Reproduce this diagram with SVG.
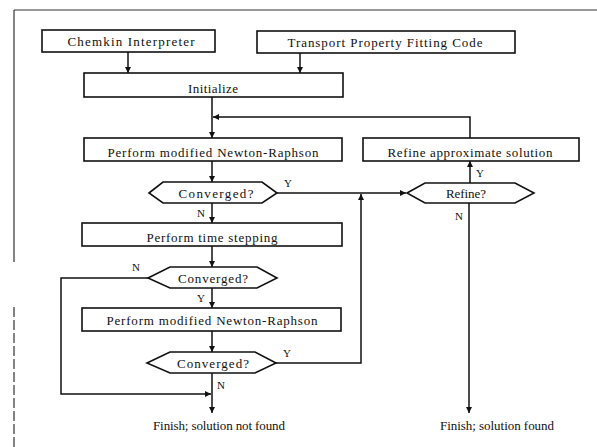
<svg xmlns="http://www.w3.org/2000/svg" width="597" height="447" viewBox="0 0 597 447">
<defs>
<marker id="ah" viewBox="0 0 10 10" refX="10" refY="5" markerWidth="6" markerHeight="7" markerUnits="userSpaceOnUse" orient="auto">
<path d="M0,0 L10,5 L0,10 z" fill="#111"/>
</marker>
</defs>
<style>
.box{fill:#fff;stroke:#111;stroke-width:1.6}
.t{font-family:"Liberation Serif","Times New Roman",serif;font-size:13px;fill:#111;text-anchor:middle}
.lb{font-family:"Liberation Serif","Times New Roman",serif;font-size:11px;fill:#111;text-anchor:middle}
.c{fill:none;stroke:#111;stroke-width:1.5}
.a{fill:none;stroke:#111;stroke-width:1.5;marker-end:url(#ah)}
.frame{fill:none;stroke:#333;stroke-width:1.2}
</style>
<rect width="597" height="447" fill="#fff"/>
<g id="frame">
<line class="frame" x1="14" y1="10" x2="597" y2="10"/>
<line class="frame" x1="14" y1="10" x2="14" y2="262"/>
<line class="frame" x1="14" y1="307" x2="14" y2="447" stroke-dasharray="10,3"/>
</g>
<g id="connectors">
<line class="a" x1="128" y1="52" x2="128" y2="73"/>
<line class="a" x1="300" y1="53" x2="300" y2="73"/>
<line class="a" x1="212" y1="97" x2="212" y2="138"/>
<polyline class="a" points="470,138 470,117 213,117"/>
<line class="a" x1="212" y1="161" x2="212" y2="182"/>
<line class="a" x1="277" y1="193" x2="406" y2="193"/>
<line class="a" x1="470" y1="183" x2="470" y2="161"/>
<line class="a" x1="469" y1="203" x2="469" y2="413"/>
<line class="a" x1="212" y1="203" x2="212" y2="223"/>
<line class="a" x1="212" y1="246" x2="212" y2="267"/>
<line class="a" x1="212" y1="288" x2="212" y2="308"/>
<line class="a" x1="212" y1="331" x2="212" y2="352"/>
<polyline class="a" points="276,363 361,363 361,194"/>
<polyline class="a" points="148,278 61,278 61,394 211,394"/>
<line class="a" x1="212" y1="373" x2="212" y2="413"/>
<text class="lb" x="288" y="187">Y</text>
<text class="lb" x="201" y="217">N</text>
<text class="lb" x="136" y="271">N</text>
<text class="lb" x="201" y="302">Y</text>
<text class="lb" x="287" y="357">Y</text>
<text class="lb" x="221" y="389">N</text>
<text class="lb" x="480" y="177">Y</text>
<text class="lb" x="459" y="220">N</text>
</g>
<g id="chemkin">
<rect class="box" x="42" y="30" width="173" height="22"/>
<text class="t" x="131" y="46" textLength="127" lengthAdjust="spacing">Chemkin Interpreter</text>
</g>
<g id="transport">
<rect class="box" x="257" y="31" width="258" height="22"/>
<text class="t" x="385" y="47" textLength="195" lengthAdjust="spacing">Transport Property Fitting Code</text>
</g>
<g id="initialize">
<rect class="box" x="84" y="73" width="259" height="24"/>
<text class="t" x="213" y="93" textLength="50" lengthAdjust="spacing">Initialize</text>
</g>
<g id="newton1">
<rect class="box" x="84" y="138" width="258" height="23"/>
<text class="t" x="213" y="157" textLength="211" lengthAdjust="spacing">Perform modified Newton-Raphson</text>
</g>
<g id="refinebox">
<rect class="box" x="363" y="138" width="216" height="23"/>
<text class="t" x="470" y="157" textLength="165" lengthAdjust="spacing">Refine approximate solution</text>
</g>
<g id="converged1">
<polygon class="box" points="149,193 163,182 262,182 277,193 262,203 163,203"/>
<text class="t" x="216" y="198" textLength="75" lengthAdjust="spacing">Converged?</text>
</g>
<g id="refineq">
<polygon class="box" points="407,193 425,183 515,183 534,193 515,203 425,203"/>
<text class="t" x="466" y="198" textLength="40" lengthAdjust="spacing">Refine?</text>
</g>
<g id="timestep">
<rect class="box" x="82" y="223" width="260" height="23"/>
<text class="t" x="212" y="242" textLength="131" lengthAdjust="spacing">Perform time stepping</text>
</g>
<g id="converged2">
<polygon class="box" points="148,278 170,267 257,267 277,278 257,288 170,288"/>
<text class="t" x="213" y="283" textLength="70" lengthAdjust="spacing">Converged?</text>
</g>
<g id="newton2">
<rect class="box" x="82" y="308" width="259" height="23"/>
<text class="t" x="212" y="325" textLength="211" lengthAdjust="spacing">Perform modified Newton-Raphson</text>
</g>
<g id="converged3">
<polygon class="box" points="147,363 170,352 255,352 276,363 255,373 170,373"/>
<text class="t" x="213" y="368" textLength="72" lengthAdjust="spacing">Converged?</text>
</g>
<g id="notfound">
<text class="t" x="219" y="430" textLength="132" lengthAdjust="spacing">Finish; solution not found</text>
</g>
<g id="found">
<text class="t" x="497" y="430" textLength="114" lengthAdjust="spacing">Finish; solution found</text>
</g>
</svg>
